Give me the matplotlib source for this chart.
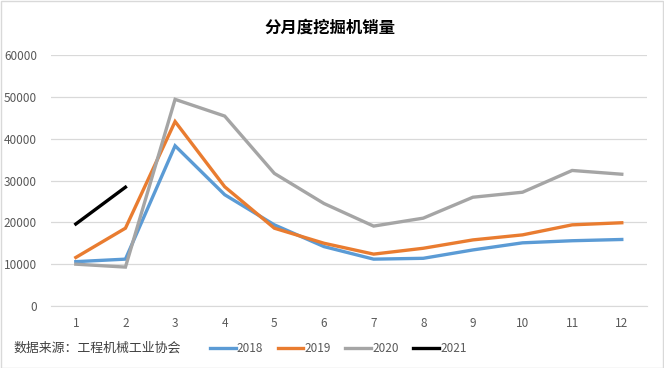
import matplotlib
matplotlib.use('Agg')
import matplotlib.pyplot as plt

plt.rcParams['font.family'] = ['Noto Sans CJK SC', 'DejaVu Sans']

months = list(range(1, 13))
sales_2018 = [10600, 11200, 38300, 26600, 19400, 14200, 11200, 11400, 13400, 15100, 15600, 15900]
sales_2019 = [11600, 18600, 44100, 28500, 18600, 15000, 12400, 13800, 15800, 17000, 19400, 19900]
sales_2020 = [10000, 9300, 49400, 45400, 31700, 24500, 19100, 21000, 26000, 27200, 32400, 31500]
sales_2021 = [19600, 28400]
years = ['2018', '2019', '2020', '2021']
colors = ['#5B9BD5', '#E97C30', '#A5A5A5', '#000000']
title = '分月度挖掘机销量'
source = '数据来源：工程机械工业协会'

fig = plt.figure(figsize=(6.64, 3.68), dpi=100)
ax = fig.add_axes([0.0768, 0.1685, 0.897, 0.682])

series = [sales_2018, sales_2019, sales_2020, sales_2021]
for vals, name, c in zip(series, years, colors):
    ax.plot(months[:len(vals)], vals, color=c, lw=2.4, label=name,
            solid_joinstyle='miter')

ax.set_xlim(0.5, 12.5)
ax.set_ylim(0, 60000)
ax.set_xticks(months)
ax.set_yticks(range(0, 60001, 10000))
ax.grid(axis='y', color='#D9D9D9', lw=0.9)
ax.set_axisbelow(True)
for s in ['top', 'right', 'left']:
    ax.spines[s].set_visible(False)
ax.spines['bottom'].set_color('#D9D9D9')
ax.tick_params(length=0, labelsize=8.5, labelcolor='#595959', pad=8)
ax.tick_params(axis='y', pad=10)

fig.text(0.497, 0.925, title, ha='center', va='center', fontsize=11.8,
         fontweight='bold', color='#000000')
fig.text(0.02, 0.053, source, ha='left', va='center', fontsize=9.3,
         color='#404040')
fig.legend(loc='center left', bbox_to_anchor=(0.3, 0.053), ncol=4,
           frameon=False, fontsize=8.5, handlelength=2.2, handletextpad=0.1,
           columnspacing=1.2, labelcolor='#595959')

fig.patches.append(plt.Rectangle((0.001, 0.001), 0.997, 0.997,
                                 transform=fig.transFigure, fill=False,
                                 edgecolor='#D9D9D9', lw=1))

fig.savefig('out.png', dpi=100)
